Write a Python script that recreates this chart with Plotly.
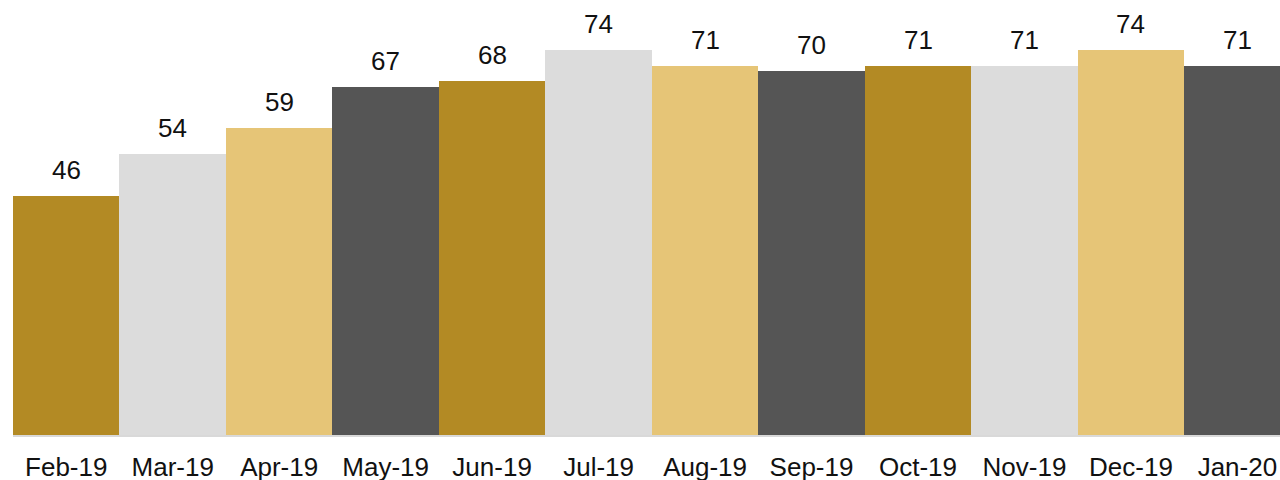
import plotly.graph_objects as go

months = ["Feb-19", "Mar-19", "Apr-19", "May-19", "Jun-19", "Jul-19",
          "Aug-19", "Sep-19", "Oct-19", "Nov-19", "Dec-19", "Jan-20"]
values = [46, 54, 59, 67, 68, 74, 71, 70, 71, 71, 74, 71]
palette = ["#B38A24", "#DCDCDC", "#E6C577", "#555555"]
colors = [palette[i % 4] for i in range(len(months))]

fig = go.Figure()
fig.add_trace(go.Bar(
    x=list(range(len(months))), y=values,
    marker=dict(color=colors, line=dict(width=0)),
    width=1.0, showlegend=False, hoverinfo="skip",
))
for i, v in enumerate(values):
    fig.add_annotation(x=i, y=v, text=str(v), showarrow=False,
                       yanchor="bottom", yshift=9,
                       font=dict(family="Liberation Sans, Arial", size=26, color="#111111"))

fig.update_layout(
    width=1280, height=480,
    margin=dict(l=13, r=0, t=0, b=45, autoexpand=False),
    paper_bgcolor="white", plot_bgcolor="white",
    bargap=0,
    font=dict(family="Liberation Sans, Arial", size=26, color="#111111"),
    xaxis=dict(tickmode="array", tickvals=list(range(len(months))), ticktext=months,
               range=[-0.5, 11.40], showgrid=False, zeroline=False,
               showline=True, linecolor="#D9D9D9", linewidth=2,
               ticks="", ticklabelstandoff=8, automargin=False,
               tickfont=dict(size=26, color="#111111")),
    yaxis=dict(range=[0, 83.65], visible=False, showgrid=False, zeroline=False),
)
fig.write_html("out.html", config={"displayModeBar": False},
               post_script="document.body.style.margin='0';document.body.style.overflow='hidden';")
